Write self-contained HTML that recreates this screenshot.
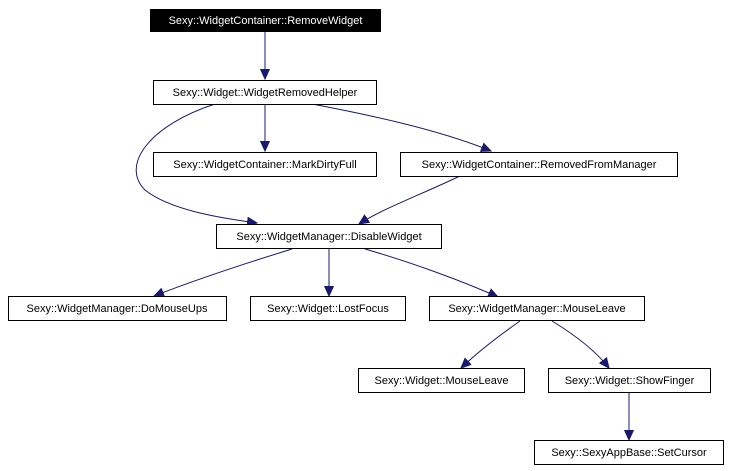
<!DOCTYPE html>
<html><head><meta charset="utf-8"><style>
html,body{margin:0;padding:0;background:#fff;}
svg{display:block;}
text{font-family:"Liberation Sans",Arial,sans-serif;font-size:11px;}
</style></head><body>
<svg width="731" height="471" viewBox="0 0 731 471" xmlns="http://www.w3.org/2000/svg">
<defs>
<marker id="a" markerWidth="12" markerHeight="12" refX="10" refY="5" orient="auto" markerUnits="userSpaceOnUse">
<path d="M0,0.5 L10,5 L0,9.5 Z" fill="#191970" stroke="#191970"/>
</marker>
</defs>
<g fill="none" stroke="#191970" stroke-width="1">
<path d="M265,32 L265,79" marker-end="url(#a)"/>
<path d="M265,104 L265,151" marker-end="url(#a)"/>
<path d="M215,104 C150,125 120,165 145,190 C170,210 220,218 257,223" marker-end="url(#a)"/>
<path d="M312,104 C370,115 440,130 491,151" marker-end="url(#a)"/>
<path d="M460,176 C420,195 380,210 359,224" marker-end="url(#a)"/>
<path d="M292,249 C240,265 190,282 154,296" marker-end="url(#a)"/>
<path d="M329,249 L329,296" marker-end="url(#a)"/>
<path d="M365,249 C410,262 460,280 498,297" marker-end="url(#a)"/>
<path d="M520,321 C500,335 480,350 461,368" marker-end="url(#a)"/>
<path d="M552,321 C575,335 595,350 609,368" marker-end="url(#a)"/>
<path d="M629,392 L629,440" marker-end="url(#a)"/>
</g>
<g stroke="#000" stroke-width="1" fill="#fff">
<rect x="150.5" y="9.5" width="230" height="22" fill="#000"/>
<rect x="153.5" y="80.5" width="223" height="24"/>
<rect x="153.5" y="152.5" width="223" height="24"/>
<rect x="400.5" y="152.5" width="277" height="24"/>
<rect x="216.5" y="224.5" width="225" height="24"/>
<rect x="8.5" y="296.5" width="218" height="24"/>
<rect x="250.5" y="296.5" width="155" height="24"/>
<rect x="429.5" y="296.5" width="215" height="24"/>
<rect x="358.5" y="368.5" width="166" height="24"/>
<rect x="548.5" y="368.5" width="162" height="24"/>
<rect x="534.5" y="440.5" width="189" height="24"/>
</g>
<g text-anchor="middle">
<text x="265.5" y="24" fill="#fff">Sexy::WidgetContainer::RemoveWidget</text>
<text x="265" y="96">Sexy::Widget::WidgetRemovedHelper</text>
<text x="265" y="168">Sexy::WidgetContainer::MarkDirtyFull</text>
<text x="539" y="168">Sexy::WidgetContainer::RemovedFromManager</text>
<text x="329" y="240">Sexy::WidgetManager::DisableWidget</text>
<text x="117" y="312">Sexy::WidgetManager::DoMouseUps</text>
<text x="328" y="312">Sexy::Widget::LostFocus</text>
<text x="537" y="312">Sexy::WidgetManager::MouseLeave</text>
<text x="441.5" y="384">Sexy::Widget::MouseLeave</text>
<text x="629.5" y="384">Sexy::Widget::ShowFinger</text>
<text x="629" y="456">Sexy::SexyAppBase::SetCursor</text>
</g>
</svg>
</body></html>
